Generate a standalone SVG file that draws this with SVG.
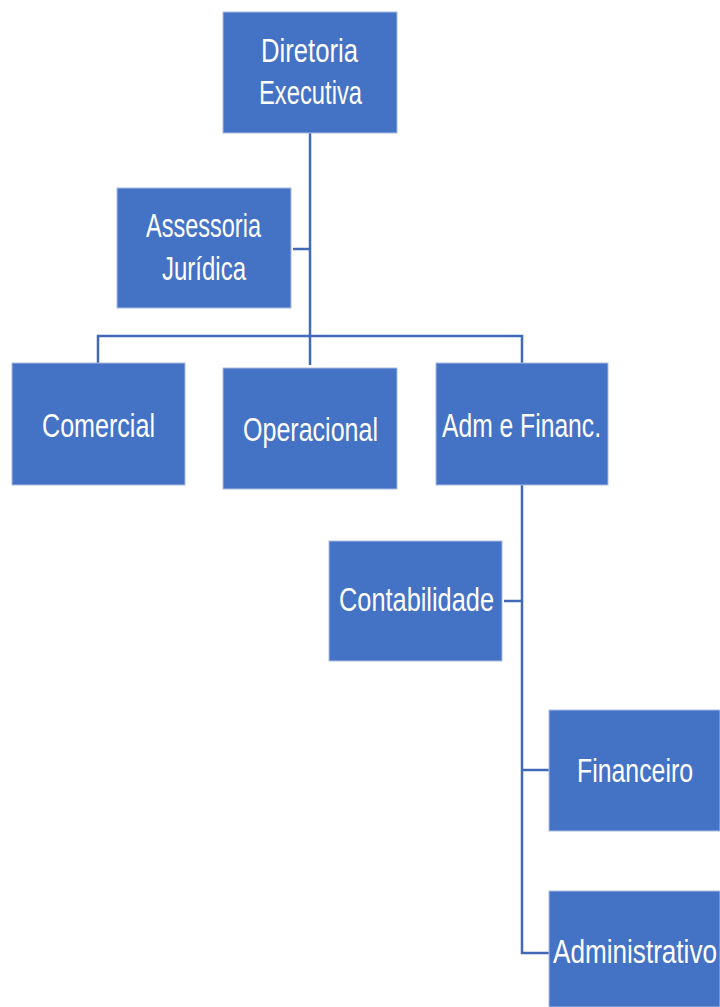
<svg xmlns="http://www.w3.org/2000/svg" width="720" height="1007" viewBox="0 0 720 1007">
<style>
.box{fill:#4472C4;stroke:#A9BCE3;stroke-width:1}
.lbl{fill:#FFFFFF;font-family:"Liberation Sans Narrow","Liberation Sans",Arial,sans-serif;font-size:34px}
.ln{fill:none;stroke:#4169B8;stroke-width:2.5}
</style>
<rect width="720" height="1007" fill="#FFFFFF"/>
<g id="connectors">
<path class="ln" d="M310 133 V365"/>
<path class="ln" d="M293 249 H310"/>
<path class="ln" d="M98 363 V336 H522 V363"/>
<path class="ln" d="M522 485 V953 H549"/>
<path class="ln" d="M504 601 H522"/>
<path class="ln" d="M522 770 H549"/>
</g>
<g id="diretoria">
<rect class="box" x="223" y="12" width="174" height="121"/>
<text class="lbl" x="261" y="62" textLength="97" lengthAdjust="spacingAndGlyphs">Diretoria</text>
<text class="lbl" x="259" y="104" textLength="103" lengthAdjust="spacingAndGlyphs">Executiva</text>
</g>
<g id="assessoria">
<rect class="box" x="117" y="188" width="174" height="120"/>
<text class="lbl" x="146" y="237" textLength="115" lengthAdjust="spacingAndGlyphs">Assessoria</text>
<text class="lbl" x="162" y="280" textLength="84" lengthAdjust="spacingAndGlyphs">Jurídica</text>
</g>
<g id="comercial">
<rect class="box" x="12" y="363" width="173" height="122"/>
<text class="lbl" x="42" y="437" textLength="113" lengthAdjust="spacingAndGlyphs">Comercial</text>
</g>
<g id="operacional">
<rect class="box" x="223" y="368" width="174" height="121"/>
<text class="lbl" x="243" y="441" textLength="135" lengthAdjust="spacingAndGlyphs">Operacional</text>
</g>
<g id="admfinanc">
<rect class="box" x="436" y="363" width="172" height="122"/>
<text class="lbl" x="442" y="437" textLength="159" lengthAdjust="spacingAndGlyphs">Adm e Financ.</text>
</g>
<g id="contabilidade">
<rect class="box" x="329" y="541" width="173" height="120"/>
<text class="lbl" x="339" y="611" textLength="155" lengthAdjust="spacingAndGlyphs">Contabilidade</text>
</g>
<g id="financeiro">
<rect class="box" x="549" y="710" width="171" height="121"/>
<text class="lbl" x="577" y="782" textLength="116" lengthAdjust="spacingAndGlyphs">Financeiro</text>
</g>
<g id="administrativo">
<rect class="box" x="549" y="891" width="171" height="116"/>
<text class="lbl" x="553" y="963" textLength="164" lengthAdjust="spacingAndGlyphs">Administrativo</text>
</g>
</svg>
